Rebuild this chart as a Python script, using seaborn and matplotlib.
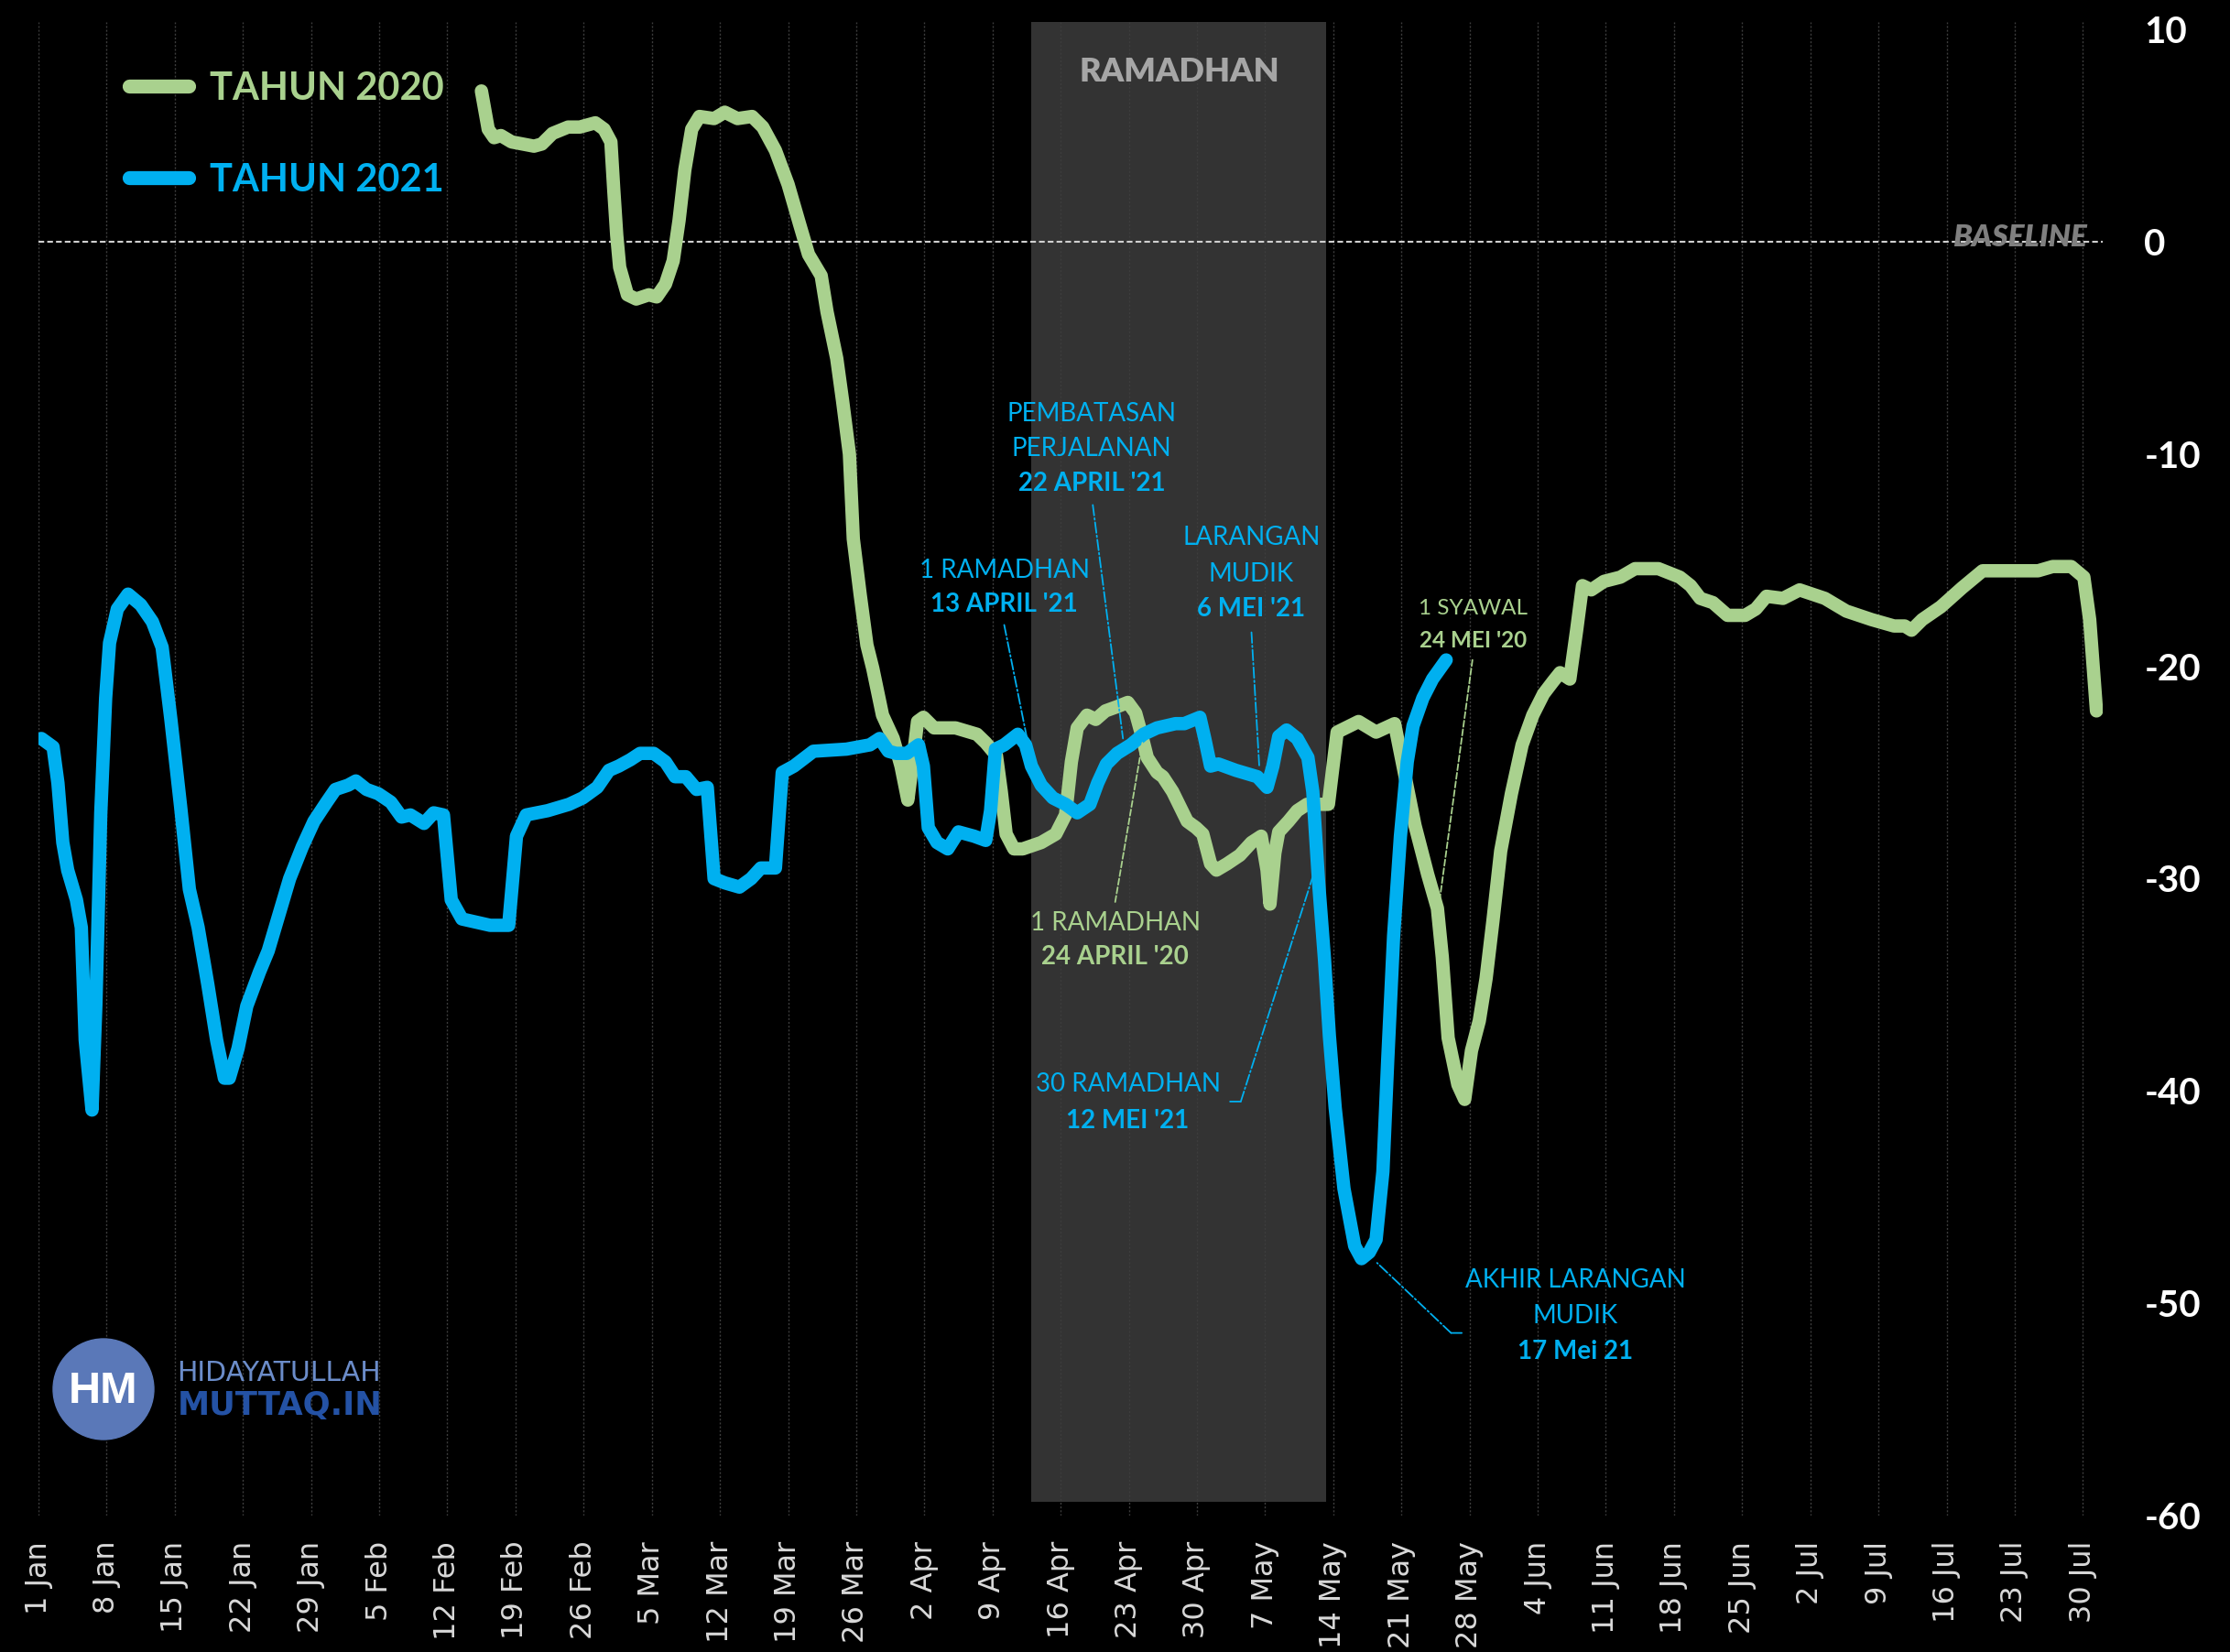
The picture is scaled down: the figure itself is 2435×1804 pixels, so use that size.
import matplotlib
matplotlib.use("Agg")
import matplotlib.pyplot as plt
from matplotlib.patches import Ellipse
import seaborn as sns
import pandas as pd

# x = days since 1 Jan, y = mobility change (%) vs baseline
days_2020 = [45.5, 46.2, 46.8, 47.5, 48.6, 50.9, 51.7, 52.8, 54.4, 55.6, 57.2, 58.1, 58.8, 59.1,
             59.4, 59.7, 60.5, 61.4, 62.7, 63.5, 64.4, 65.2, 65.8, 66.4, 67.1, 67.9, 69.4, 70.5,
             71.8, 73.3, 74.4, 75.7, 77.0, 78.2, 79.1, 80.4, 81.0, 82.0, 82.6, 83.3, 83.7, 84.4,
             85.1, 85.7, 86.7, 87.8, 88.6, 89.3, 89.8, 90.3, 90.9, 92.0, 94.2, 96.4, 97.3, 98.4,
             98.9, 99.4, 100.2, 101.1, 103.0, 104.5, 105.5, 106.1, 106.7, 107.7, 108.6, 109.6,
             110.8, 111.9, 112.7, 113.3, 113.9, 114.9, 115.5, 116.5, 118.0, 118.9, 119.6, 120.4,
             121.0, 122.1, 123.4, 124.6, 125.6, 126.2, 126.5, 127.0, 127.4, 128.4, 129.3, 130.3,
             131.5, 132.5, 133.4, 135.6, 137.4, 139.3, 140.3, 141.4, 142.7, 143.7, 144.2, 144.8,
             145.8, 146.5, 147.2, 148.0, 148.7, 149.4, 150.2, 151.3, 152.4, 153.5, 154.6, 155.6,
             156.3, 157.3, 158.0, 158.6, 159.5, 160.8, 162.5, 164.0, 166.4, 168.6, 169.7, 170.7,
             172.0, 173.5, 175.3, 176.4, 177.5, 179.2, 180.9, 183.5, 185.7, 188.3, 190.6, 191.7,
             192.4, 193.5, 195.4, 197.6, 199.7, 202.8, 205.4, 206.9, 208.8, 210.1, 210.7, 211.4]
vals_2020 = [7.1, 5.3, 4.9, 5.0, 4.7, 4.5, 4.6, 5.1, 5.4, 5.4, 5.6, 5.3, 4.7, 2.4,
             0.3, -1.2, -2.5, -2.7, -2.5, -2.6, -2.0, -0.9, 1.0, 3.4, 5.3, 5.9, 5.8, 6.1,
             5.8, 5.9, 5.4, 4.3, 2.7, 0.8, -0.6, -1.6, -3.3, -5.5, -7.5, -10.0, -14.0, -16.6,
             -19.0, -20.1, -22.3, -23.4, -24.7, -26.3, -24.5, -22.6, -22.4, -22.9, -22.9, -23.2, -23.6, -24.2,
             -25.9, -27.9, -28.6, -28.6, -28.3, -27.9, -27.0, -24.5, -22.9, -22.3, -22.5, -22.1,
             -21.9, -21.7, -22.2, -23.2, -24.3, -25.0, -25.2, -25.9, -27.3, -27.6, -27.9, -29.3,
             -29.6, -29.3, -28.9, -28.3, -28.0, -29.6, -31.2, -28.8, -27.8, -27.3, -26.8, -26.5,
             -26.5, -26.5, -23.1, -22.6, -23.1, -22.7, -25.0, -27.5, -29.8, -31.4, -33.7, -37.5,
             -39.7, -40.4, -38.1, -36.7, -34.7, -32.0, -28.7, -26.0, -23.7, -22.3, -21.3, -20.7,
             -20.3, -20.6, -18.3, -16.2, -16.4, -16.0, -15.8, -15.4, -15.4, -15.8, -16.2, -16.8,
             -17.0, -17.6, -17.6, -17.3, -16.7, -16.8, -16.4, -16.8, -17.4, -17.8, -18.1, -18.1,
             -18.3, -17.8, -17.2, -16.3, -15.5, -15.5, -15.5, -15.3, -15.3, -15.8, -17.8, -22.1]

days_2021 = [0.3, 1.5, 2.0, 2.5, 3.0, 3.9, 4.4, 4.8, 5.5, 5.9, 6.4, 6.9, 7.3, 8.1, 9.2, 10.5,
             11.7, 12.7, 13.6, 14.6, 15.5, 16.4, 17.4, 18.3, 19.1, 19.6, 20.5, 21.4, 22.7, 23.6,
             24.9, 25.8, 27.1, 28.3, 29.6, 30.5, 31.8, 32.6, 33.7, 34.9, 36.2, 37.3, 38.2, 39.6,
             40.6, 41.6, 42.4, 43.5, 46.4, 48.3, 49.1, 50.1, 52.3, 54.5, 55.9, 57.4, 58.6, 59.6,
             60.8, 61.8, 63.2, 64.4, 65.4, 66.5, 67.6, 68.7, 69.4, 70.5, 72.0, 73.2, 74.2, 75.7,
             76.4, 77.6, 79.6, 83.0, 85.4, 86.4, 87.3, 88.1, 89.2, 90.4, 90.9, 91.4, 92.3, 93.4,
             94.5, 96.1, 97.3, 97.8, 98.3, 99.2, 100.6, 101.4, 102.0, 103.0, 104.2, 105.5, 106.7,
             108.0, 108.8, 109.7, 110.8, 112.2, 113.5, 114.9, 116.8, 117.7, 119.3, 119.8, 120.4,
             121.2, 123.0, 125.2, 126.2, 126.8, 127.4, 128.2, 129.3, 130.4, 130.9, 131.5, 132.1,
             132.6, 133.2, 134.1, 135.2, 135.9, 136.7, 137.4, 138.1, 138.6, 139.2, 139.9, 140.6,
             141.2, 142.2, 143.2, 144.6]
vals_2021 = [-23.4, -23.8, -25.5, -28.3, -29.6, -31.0, -32.3, -37.6, -40.9, -35.9, -26.9, -21.5, -18.9, -17.3, -16.6, -17.1,
             -17.9, -19.1, -22.5, -26.6, -30.5, -32.3, -35.0, -37.6, -39.4, -39.4, -38.0, -36.0, -34.4, -33.4,
             -31.4, -30.0, -28.5, -27.3, -26.4, -25.8, -25.6, -25.4, -25.8, -26.0, -26.4, -27.1, -27.0, -27.4,
             -26.9, -27.0, -31.0, -31.9, -32.2, -32.2, -28.0, -27.0, -26.8, -26.5, -26.2, -25.7, -24.9, -24.7,
             -24.4, -24.1, -24.1, -24.5, -25.2, -25.2, -25.8, -25.7, -30.0, -30.2, -30.4, -30.0, -29.5, -29.5,
             -25.0, -24.7, -24.0, -23.9, -23.7, -23.4, -24.0, -24.1, -24.1, -23.7, -24.7, -27.6, -28.3, -28.6,
             -27.8, -28.0, -28.2, -26.8, -23.9, -23.7, -23.2, -23.7, -24.7, -25.6, -26.2, -26.5, -26.9,
             -26.5, -25.5, -24.6, -24.1, -23.7, -23.2, -22.9, -22.7, -22.7, -22.4, -23.4, -24.7,
             -24.6, -24.9, -25.2, -25.7, -24.7, -23.3, -23.0, -23.4, -24.3, -25.9, -30.2, -33.8,
             -37.4, -40.8, -44.6, -47.3, -47.9, -47.6, -47.0, -43.8, -38.5, -32.7, -28.0, -24.5,
             -22.8, -21.5, -20.6, -19.7]

tick_days = list(range(0, 211, 7))
tick_labels = ["1 Jan", "8 Jan", "15 Jan", "22 Jan", "29 Jan", "5 Feb", "12 Feb", "19 Feb",
               "26 Feb", "5 Mar", "12 Mar", "19 Mar", "26 Mar", "2 Apr", "9 Apr", "16 Apr",
               "23 Apr", "30 Apr", "7 May", "14 May", "21 May", "28 May", "4 Jun", "11 Jun",
               "18 Jun", "25 Jun", "2 Jul", "9 Jul", "16 Jul", "23 Jul", "30 Jul"]
y_ticks = [-60, -50, -40, -30, -20, -10, 0, 10]
y_labels = ["-60", "-50", "-40", "-30", "-20", "-10", "0", "10"]

GREEN = "#a9d18e"
BLUE = "#00b0f0"
LW = 10.5

sns.set_theme(style="dark", rc={"axes.facecolor": "black", "figure.facecolor": "black"})
plt.rcParams["font.family"] = ["Lato", "DejaVu Sans"]

fig = plt.figure(figsize=(24.35, 18.04), dpi=100)
ax = fig.add_axes([0.01725, 0.0826, 0.9255, 0.9041])
ax.set_facecolor("black")

# ramadhan 2021 band
ax.axvspan(102, 132.3, ymin=0.009, ymax=1, color="#333333", lw=0, zorder=0.5)
ax.text(117.2, 8.0, "RAMADHAN", color="#a6a6a6", fontsize=26, fontweight="heavy",
        ha="center", va="center")

ax.set_axisbelow("line")
ax.grid(axis="x", color="#3d3d3d", linestyle=(0, (1.5, 1.5)), lw=1.0)
ax.grid(axis="y", visible=False)

df20 = pd.DataFrame({"day": days_2020, "val": vals_2020})
df21 = pd.DataFrame({"day": days_2021, "val": vals_2021})
sns.lineplot(data=df20, x="day", y="val", ax=ax, color=GREEN, linewidth=LW,
             label="TAHUN 2020", zorder=3, solid_capstyle="round", solid_joinstyle="round")
sns.lineplot(data=df21, x="day", y="val", ax=ax, color=BLUE, linewidth=LW,
             label="TAHUN 2021", zorder=4, solid_capstyle="round", solid_joinstyle="round")

ax.axhline(0, color="#d0d0d0", lw=1.5, linestyle=(0, (3, 1.6)), zorder=1.8)
ax.text(203.5, 0.2, "BASELINE", color="#7f7f7f", fontsize=24, fontweight="heavy",
        fontstyle="italic", ha="center", va="center", zorder=1.9)

ax.set_xlim(0, 212)
ax.set_ylim(-60, 10.35)
ax.set_xlabel("")
ax.set_ylabel("")
for s in ax.spines.values():
    s.set_visible(False)

ax.set_xticks(tick_days)
ax.set_xticklabels(tick_labels, rotation=90, fontsize=23, color="#d9d9d9", family="DejaVu Sans")
ax.tick_params(axis="x", length=0, pad=20)
ax.yaxis.tick_right()
ax.set_yticks(y_ticks)
ax.set_yticklabels(y_labels, fontsize=29, fontweight="bold", color="white")
ax.tick_params(axis="y", length=0, pad=33)

leg = ax.legend(loc="upper left", bbox_to_anchor=(0.058, 0.957), bbox_transform=fig.transFigure,
                frameon=False, prop={"family": "Lato", "weight": "bold", "size": 30},
                labelcolor="linecolor", handlelength=1.55, handletextpad=0.55,
                labelspacing=1.5, borderpad=0, borderaxespad=0)
for h in leg.legend_handles:
    h.set_linewidth(11)
    h.set_solid_capstyle("round")


def note(x, ys, lines, bold, color, size=20):
    for y, t in zip(ys[:-1], lines):
        ax.text(x, y, t, color=color, fontsize=size, ha="center", va="center", zorder=5)
    ax.text(x, ys[-1], bold, color=color, fontsize=size, fontweight="bold",
            ha="center", va="center", zorder=5)


def leader(p0, p1, color, ls):
    ax.annotate("", xy=p1, xytext=p0, zorder=5,
                arrowprops=dict(arrowstyle="-", color=color, lw=1.3, linestyle=ls,
                                shrinkA=0, shrinkB=0))


note(108.2, [-8.09, -9.76, -11.41], ["PEMBATASAN", "PERJALANAN"], "22 APRIL '21", BLUE)
leader((108.3, -12.4), (111.4, -23.4), BLUE, "-.")
note(99.2, [-15.5, -17.1], ["1 RAMADHAN"], "13 APRIL '21", BLUE)
leader((99.2, -18.05), (101.5, -23.3), BLUE, "-.")
note(124.6, [-13.95, -15.65, -17.32], ["LARANGAN", "MUDIK"], "6 MEI '21", BLUE)
leader((124.6, -18.4), (125.4, -24.7), BLUE, "-.")
note(111.9, [-39.7, -41.4], ["30 RAMADHAN"], "12 MEI '21", BLUE)
leader((122.4, -40.5), (123.5, -40.5), BLUE, "-.")
leader((123.5, -40.5), (130.9, -29.9), BLUE, "-.")
note(157.9, [-48.9, -50.6, -52.3], ["AKHIR LARANGAN", "MUDIK"], "17 Mei 21", BLUE)
leader((146.2, -51.4), (145.1, -51.4), BLUE, "-.")
leader((145.1, -51.4), (137.5, -48.1), BLUE, "-.")
note(147.4, [-17.26, -18.8], ["1 SYAWAL"], "24 MEI '20", GREEN, size=17.5)
leader((147.3, -19.7), (143.9, -31.1), GREEN, "--")
note(110.6, [-32.1, -33.7], ["1 RAMADHAN"], "24 APRIL '20", GREEN)
leader((110.6, -31.1), (113.4, -23.6), GREEN, "--")

# logo
W, H = 2435, 1804
fig.add_artist(Ellipse((113 / W, 1 - 1517 / H), 110 / W, 110 / H, transform=fig.transFigure,
                       color="#5a78b8", zorder=6))
fig.text(113 / W, 1 - 1519 / H, "HM", color="white", fontsize=35, fontweight="bold",
         family="Liberation Sans", ha="center", va="center", zorder=7)
fig.text(193 / W, 1 - 1499 / H, "HIDAYATULLAH", color="#6b8cc9", fontsize=21.5,
         family="DejaVu Sans", ha="left", va="center")
fig.text(194 / W, 1 - 1535 / H, "MUTTAQ.IN", color="#2452a5", fontsize=25.5, fontweight="bold",
         family="DejaVu Sans", ha="left", va="center")

fig.savefig("out.png", dpi=100, facecolor="black")
